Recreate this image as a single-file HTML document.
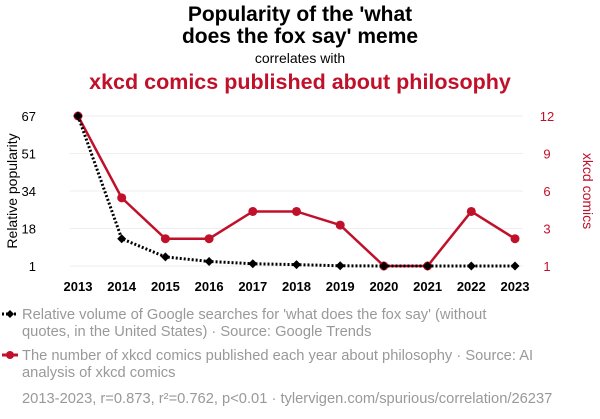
<!DOCTYPE html>
<html><head><meta charset="utf-8"><style>
body{margin:0;background:#fff;font-family:"Liberation Sans",sans-serif;}
svg text{font-family:"Liberation Sans",sans-serif;}
</style></head><body>
<svg width="600" height="414" viewBox="0 0 600 414">
<text x="300" y="21" text-anchor="middle" font-size="21" font-weight="bold" fill="#000">Popularity of the 'what</text>
<text x="300" y="43" text-anchor="middle" font-size="21" font-weight="bold" fill="#000">does the fox say' meme</text>
<text x="300" y="63" text-anchor="middle" font-size="14" fill="#000">correlates with</text>
<text x="300" y="89" text-anchor="middle" font-size="21.5" font-weight="bold" fill="#c0102a">xkcd comics published about philosophy</text>
<text transform="translate(17,191) rotate(-90)" text-anchor="middle" font-size="14" fill="#000">Relative popularity</text>
<text transform="translate(583,191) rotate(90)" text-anchor="middle" font-size="14" fill="#c0102a">xkcd comics</text>
<g id="grid"></g><g id="axes"></g><g id="series"></g>
<g>
<line x1="2" y1="314" x2="18" y2="314" stroke="#000" stroke-width="3" stroke-dasharray="2,2"/>
<path d="M10 310 L14 314 L10 318 L6 314Z" fill="#000"/>
<text x="22" y="319" font-size="14.7" fill="#999">Relative volume of Google searches for 'what does the fox say' (without</text>
<text x="22" y="336" font-size="14.7" fill="#999">quotes, in the United States) · Source: Google Trends</text>
<line x1="2" y1="355" x2="18" y2="355" stroke="#c0102a" stroke-width="3"/>
<circle cx="10" cy="355" r="4" fill="#c0102a"/>
<text x="22" y="360" font-size="14.7" fill="#999">The number of xkcd comics published each year about philosophy · Source: AI</text>
<text x="22" y="377" font-size="14.7" fill="#999">analysis of xkcd comics</text>
<text x="22" y="403" font-size="14.7" fill="#999">2013-2023, r=0.873, r²=0.762, p&lt;0.01 · tylervigen.com/spurious/correlation/26237</text>
</g>
</svg>
<script>
const years=[2013,2014,2015,2016,2017,2018,2019,2020,2021,2022,2023];
const foxValues=[67,13,5,3,2,1.6,1.1,1,1,1,1];
const xkcdValues=[12,6,3,3,5,5,4,1,1,5,3];
const leftTickVals=[67,50.5,34,17.5,1];
const leftTickLabels=["67","51","34","18","1"];
const rightTickVals=[12,9.25,6.5,3.75,1];
const rightTickLabels=["12","9","6","3","1"];
const NS="http://www.w3.org/2000/svg";
const x=i=>78+i*(515-78)/(years.length-1);
const yL=v=>266-(v-1)*150/66;
const yR=v=>266-(v-1)*150/11;
function mk(tag,attrs,parent){const e=document.createElementNS(NS,tag);for(const k in attrs)e.setAttribute(k,attrs[k]);document.getElementById(parent).appendChild(e);return e;}
leftTickVals.forEach((v,i)=>{
 const g=mk('line',{x1:70,x2:523,y1:yL(v),y2:yL(v),stroke:'#eee','stroke-width':1},'grid');
 
 
 const t=mk('text',{x:36,y:yL(v)+5,'text-anchor':'end','font-size':13,fill:'#000'},'axes');t.textContent=leftTickLabels[i];
 
 
});
rightTickVals.forEach((v,i)=>{
 const t=mk('text',{x:547,y:yR(v)+5,'text-anchor':'middle','font-size':13,fill:'#c0102a'},'axes');t.textContent=rightTickLabels[i];
 
 
});
years.forEach((yr,i)=>{
 const t=mk('text',{x:x(i),y:291,'text-anchor':'middle','font-size':13,'font-weight':'bold',fill:'#000'},'axes');t.textContent=yr;
 
 
});
const p2=mk('polyline',{points:xkcdValues.map((v,i)=>x(i)+','+yR(v)).join(' '),fill:'none',stroke:'#c0102a','stroke-width':2.5},'series');


xkcdValues.forEach((v,i)=>{const c=mk('circle',{cx:x(i),cy:yR(v),r:4.5,fill:'#c0102a'},'series');
 
 });
const p1=mk('polyline',{points:foxValues.map((v,i)=>x(i)+','+yL(v)).join(' '),fill:'none',stroke:'#000','stroke-width':3,'stroke-dasharray':'2,2'},'series');


foxValues.forEach((v,i)=>{const X=x(i),Y=yL(v);const d=mk('path',{d:`M${X} ${Y-4.5}L${X+4.5} ${Y}L${X} ${Y+4.5}L${X-4.5} ${Y}Z`,fill:'#000'},'series');
 
 });
</script>
</body></html>
